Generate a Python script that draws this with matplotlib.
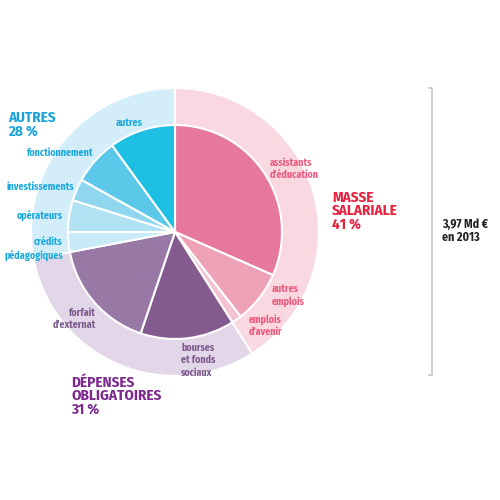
import matplotlib
matplotlib.use("Agg")
import matplotlib.pyplot as plt
from matplotlib.lines import Line2D

# ---- data (percent of 3,97 Md EUR, 2013) ----
groups = ["MASSE\nSALARIALE", "DÉPENSES\nOBLIGATOIRES", "AUTRES"]
group_pct = [41, 31, 28]
group_labels = ["41 %", "31 %", "28 %"]

items = ["assistants\nd'éducation", "autres\nemplois", "emplois\nd'avenir",
         "bourses\net fonds\nsociaux", "forfait\nd'externat",
         "crédits\npédagogiques", "opérateurs", "investissements",
         "fonctionnement", "autres"]
item_pct = [31.6, 7.9, 1.5, 14.2, 16.8, 3.0, 4.8, 3.3, 6.9, 10.0]

total_label = "3,97 Md €\nen 2013"

# ---- styles ----
ring_colors = ["#f9d8e2", "#e3d6e8", "#d4eef9"]
item_colors = ["#e6789b", "#eea2b7", "#f3c3d1", "#845b8f", "#9879a5",
               "#c7eaf7", "#b1e2f4", "#8fd6ef", "#5bc8e9", "#1dbfe3"]
grp_text = ["#e8203f", "#7d2a8e", "#1aa3db"]
sub_text = ["#ea5a7d", "#7c5a8c", "#1ba8da"]

plt.rcParams['font.family'] = ['Fira Sans Condensed', 'Liberation Sans', 'DejaVu Sans']

fig = plt.figure(figsize=(5, 5), dpi=100)
ax = fig.add_axes([0, 0, 1, 1])
ax.set_aspect('equal')
ax.axis('off')

cx, cy = 175, 268
ax.pie(group_pct, colors=ring_colors, radius=144, center=(cx, cy),
       startangle=90, counterclock=False,
       wedgeprops=dict(edgecolor='white', linewidth=1.5))
ax.pie(item_pct, colors=item_colors, radius=107, center=(cx, cy),
       startangle=90, counterclock=False,
       wedgeprops=dict(edgecolor='white', linewidth=1.5))
ax.set_xlim(0, 500)
ax.set_ylim(0, 500)

def py(y):
    return 500 - y

fs = 7.2
# item labels: (x, y of first line centre in pixels, ha)
item_pos = [(270, 163, 'left'), (272, 289, 'left'), (249, 319, 'left'),
            (181, 348, 'left'), (96, 313, 'right'),
            (63, 242, 'right'), (63, 215, 'right'), (74, 187, 'right'),
            (93, 153, 'right'), (129, 123, 'center')]
item_grp = [0, 0, 0, 1, 1, 2, 2, 2, 2, 2]
for lab, (x, y, ha), g in zip(items, item_pos, item_grp):
    ax.text(x, py(y - 5), lab, ha=ha, va='top', fontsize=fs, fontweight='bold',
            color=sub_text[g], linespacing=1.18, multialignment=ha)

# group labels (top-left anchored)
grp_pos = [(332, 191), (71, 376), (8, 111)]
for name, pl, (x, y), c in zip(groups, group_labels, grp_pos, grp_text):
    ax.text(x, py(y), name + "\n" + pl, ha='left', va='top', fontsize=10.8,
            fontweight='bold', color=c, linespacing=0.9)

# bracket
ax.add_line(Line2D([429, 432, 432, 429], [py(88), py(88), py(375), py(375)],
                   color='#c8c8c8', linewidth=1.2))
ax.text(442, py(231), total_label, ha='left', va='center', fontsize=8.6,
        fontweight='bold', color='#222222', linespacing=1.0)

fig.savefig("out.png", dpi=100)
